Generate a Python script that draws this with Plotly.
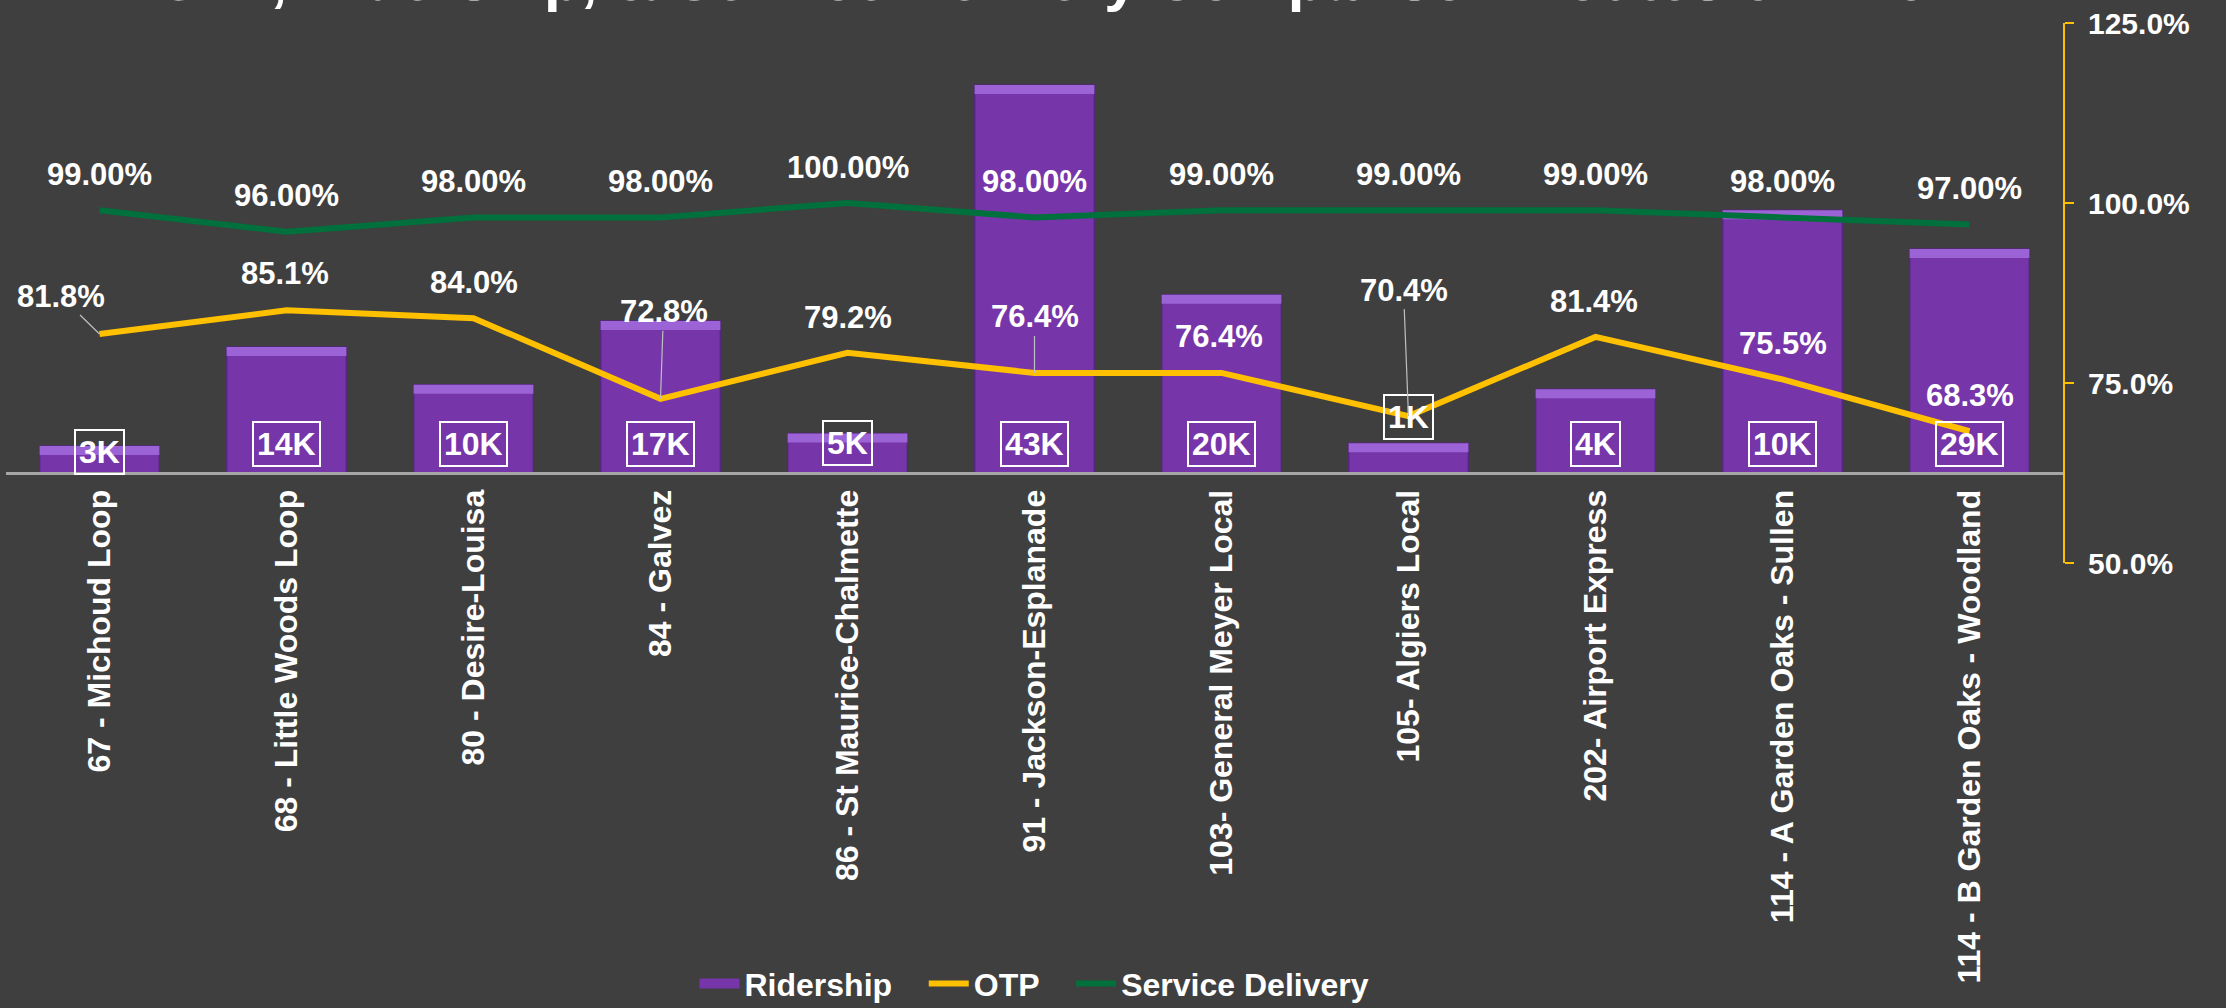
import plotly.graph_objects as go

# ---------------- data ----------------
routes = [
    "67 - Michoud Loop", "68 - Little Woods Loop", "80 - Desire-Louisa", "84 - Galvez",
    "86 - St Maurice-Chalmette", "91 - Jackson-Esplanade", "103- General Meyer Local",
    "105- Algiers Local", "202- Airport Express", "114 - A Garden Oaks - Sullen",
    "114 - B Garden Oaks - Woodland",
]
ridership = [3000, 14000, 9800, 16900, 4400, 43100, 19800, 3300, 9300, 29200, 24900]
ridership_labels = ["3K", "14K", "10K", "17K", "5K", "43K", "20K", "1K", "4K", "10K", "29K"]
otp = [81.8, 85.1, 84.0, 72.8, 79.2, 76.4, 76.4, 70.4, 81.4, 75.5, 68.3]
service = [99.0, 96.0, 98.0, 98.0, 100.0, 98.0, 99.0, 99.0, 99.0, 98.0, 97.0]
title_text = "OTP, Ridership, & Service Delivery Comparison Routes 67 - 202"

# ---------------- label placement (pixels) ----------------
rid_dy = [21, 29, 29, 29, 30, 29, 29, 56, 29, 29, 29]
otp_dx = [-39, -2, 0, 3, 0, 0, -3, -5, -2, 0, 0]
otp_dy = [-38, -37, -36, -87, -35, -56, -36, -126, -35, -36, -36]
otp_leader = [True, False, False, True, False, True, False, True, False, False, False]

BG = "#3f3f3f"
PURPLE = "#7636a9"
PURPLE_TOP = "#9c63d6"
YELLOW = "#FFC000"
GREEN = "#00703c"
FONT = "Arial, Liberation Sans, sans-serif"
GAP = "\u00a0\u00a0\u00a0"

fig = go.Figure()

fig.add_trace(go.Bar(
    x=routes, y=ridership, name="Ridership",
    marker=dict(color=PURPLE, line=dict(color="#55277c", width=1.5)),
    yaxis="y", showlegend=False,
))
# bevel highlight on top of each bar
bevel = 1000
fig.add_trace(go.Bar(
    x=routes, y=[bevel] * len(ridership), base=[v - bevel for v in ridership],
    marker=dict(color=PURPLE_TOP, line=dict(width=0)),
    showlegend=False, hoverinfo="skip", yaxis="y",
))
# legend swatch for ridership (wide purple block)
fig.add_trace(go.Scatter(
    x=[None], y=[None], name="Ridership" + GAP, mode="lines",
    line=dict(color=PURPLE, width=16), yaxis="y",
))
fig.add_trace(go.Scatter(
    x=routes, y=otp, name="OTP" + GAP, mode="lines",
    line=dict(color=YELLOW, width=6), yaxis="y2",
))
fig.add_trace(go.Scatter(
    x=routes, y=service, name="Service Delivery", mode="lines",
    line=dict(color=GREEN, width=6), yaxis="y2",
))

annotations = []
# ridership boxed labels
for r, lab, dy in zip(routes, ridership_labels, rid_dy):
    annotations.append(dict(
        x=r, y=0, xref="x", yref="y", text=lab, showarrow=False,
        yanchor="middle", yshift=dy,
        font=dict(family=FONT, size=32, color="white", weight="bold"),
        bordercolor="white", borderwidth=2, borderpad=3,
    ))
# OTP labels
for r, v, dx, dy, ld in zip(routes, otp, otp_dx, otp_dy, otp_leader):
    if ld:
        annotations.append(dict(
            x=r, y=v, xref="x", yref="y2", text=f"{v:.1f}%",
            showarrow=True, arrowhead=0, arrowwidth=1.2, arrowcolor="#bfbfbf",
            ax=dx, ay=dy, standoff=0,
            font=dict(family=FONT, size=31, color="white", weight="bold"),
        ))
    else:
        annotations.append(dict(
            x=r, y=v, xref="x", yref="y2", text=f"{v:.1f}%", showarrow=False,
            xshift=dx, yshift=-dy,
            font=dict(family=FONT, size=31, color="white", weight="bold"),
        ))
# Service delivery labels
for r, v in zip(routes, service):
    annotations.append(dict(
        x=r, y=v, xref="x", yref="y2", text=f"{v:.2f}%", showarrow=False,
        yshift=36,
        font=dict(family=FONT, size=31, color="white", weight="bold"),
    ))
# title (cut off at the top, as in the reference)
annotations.append(dict(
    x=0.5115, y=1.0148, xref="paper", yref="paper", text=title_text,
    showarrow=False, xanchor="center", yanchor="bottom",
    font=dict(family=FONT, size=60, color="white", weight="bold"),
))

fig.update_layout(
    width=2226, height=1008,
    paper_bgcolor=BG, plot_bgcolor=BG,
    margin=dict(l=6, r=163, t=23, b=445, autoexpand=False),
    barmode="overlay", bargap=0.36,
    font=dict(family=FONT, color="white"),
    showlegend=True,
    legend=dict(
        orientation="h", x=0.5, xanchor="center",
        yref="container", y=0.024, yanchor="middle",
        font=dict(family=FONT, size=32, color="white", weight="bold"),
        bgcolor="rgba(0,0,0,0)", itemwidth=40,
    ),
    xaxis=dict(
        anchor="free", position=1 / 6, automargin=False,
        showline=True, linecolor="#a6a6a6", linewidth=3,
        showgrid=False, zeroline=False, ticks="",
        tickangle=-90, ticklabelstandoff=2,
        tickfont=dict(family=FONT, size=32, color="white", weight="bold"),
    ),
    yaxis=dict(
        range=[-10000, 50000], visible=False, showgrid=False, zeroline=False,
        automargin=False,
    ),
    yaxis2=dict(
        overlaying="y", side="right", range=[50, 125], dtick=25,
        tickformat=".1f", ticksuffix="%", automargin=False,
        showline=True, linecolor=YELLOW, linewidth=2,
        ticks="outside", ticklen=9, tickwidth=2, tickcolor=YELLOW,
        showgrid=False, zeroline=False, ticklabelstandoff=8,
        tickfont=dict(family=FONT, size=30, color="white", weight="bold"),
    ),
    annotations=annotations,
)

fig.write_html(
    "out.html",
    config={"displayModeBar": False},
    post_script="document.body.style.margin='0';document.body.style.background='#3f3f3f';"
                "document.documentElement.style.overflow='hidden';",
)
